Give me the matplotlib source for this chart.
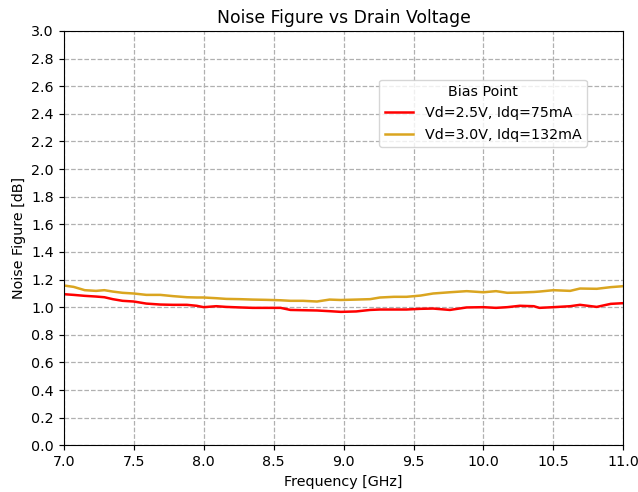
import matplotlib
matplotlib.use("Agg")
import matplotlib.pyplot as plt
import numpy as np

freq_ghz = [7.0, 7.07, 7.15, 7.23, 7.29, 7.35, 7.42, 7.5, 7.59, 7.69, 7.78, 7.88, 7.95,
            8.0, 8.09, 8.16, 8.26, 8.35, 8.45, 8.55, 8.62, 8.71, 8.81, 8.9, 8.98,
            9.09, 9.19, 9.26, 9.36, 9.45, 9.55, 9.64, 9.76, 9.88, 10.0, 10.09, 10.17,
            10.26, 10.36, 10.4, 10.5, 10.62, 10.69, 10.81, 10.91, 11.0]

nf_vd25 = [1.094, 1.089, 1.082, 1.077, 1.072, 1.058, 1.046, 1.041, 1.026, 1.019, 1.017, 1.017, 1.010,
           1.000, 1.007, 1.002, 0.998, 0.995, 0.995, 0.995, 0.980, 0.978, 0.976, 0.971, 0.966,
           0.969, 0.980, 0.983, 0.983, 0.983, 0.988, 0.990, 0.980, 0.998, 1.000, 0.995, 1.000,
           1.010, 1.007, 0.995, 1.000, 1.007, 1.017, 1.002, 1.024, 1.029]

nf_vd30 = [1.157, 1.147, 1.123, 1.118, 1.123, 1.113, 1.104, 1.099, 1.089, 1.089, 1.080, 1.072, 1.070,
           1.070, 1.065, 1.060, 1.058, 1.055, 1.053, 1.050, 1.046, 1.046, 1.041, 1.055, 1.052,
           1.055, 1.058, 1.070, 1.075, 1.075, 1.084, 1.099, 1.108, 1.116, 1.108, 1.116, 1.104,
           1.106, 1.110, 1.113, 1.123, 1.118, 1.135, 1.133, 1.145, 1.152]

labels = ["Vd=2.5V, Idq=75mA", "Vd=3.0V, Idq=132mA"]
colors = ["#ff0000", "#daa520"]

fs = 10.3
fig, ax = plt.subplots(figsize=(6.38, 4.92), dpi=100)
for y, lab, c in zip([nf_vd25, nf_vd30], labels, colors):
    ax.plot(freq_ghz, y, color=c, linewidth=1.8, label=lab)

ax.set_xlim(7.0, 11.0)
ax.set_ylim(0.0, 3.0)
ax.set_xticks(np.arange(7.0, 11.01, 0.5))
ax.set_yticks(np.arange(0.0, 3.01, 0.2))
ax.tick_params(labelsize=fs, length=3.6, width=0.85)
ax.grid(True, linestyle="--", color="#b0b0b0", linewidth=0.9)
ax.set_xlabel("Frequency [GHz]", fontsize=fs)
ax.set_ylabel("Noise Figure [dB]", fontsize=fs)
ax.set_title("Noise Figure vs Drain Voltage", fontsize=12.4)
ax.legend(title="Bias Point", loc="upper right", bbox_to_anchor=(0.948, 0.9),
          fontsize=fs, title_fontsize=fs)

fig.subplots_adjust(left=0.1, right=0.977, top=0.937, bottom=0.095)
fig.savefig("out.png", dpi=100)
